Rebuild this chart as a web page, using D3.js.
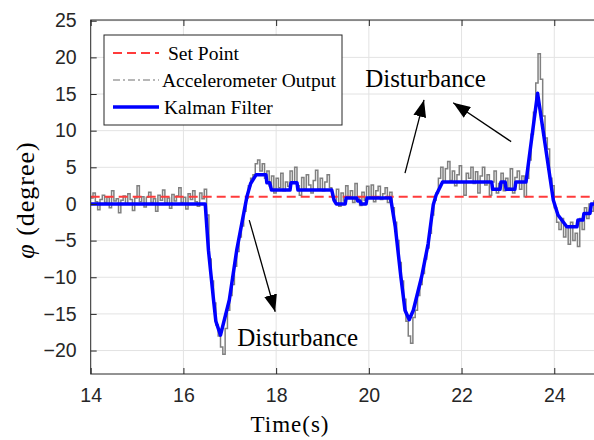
<!DOCTYPE html>
<html>
<head>
<meta charset="utf-8">
<script src="https://cdn.jsdelivr.net/npm/d3@7"></script>
<style>
  body { margin: 0; background: #fff; }
  svg { display: block; }
</style>
</head>
<body>
<div id="chart"></div>
<script>
// ticks
const xTicks = [14, 16, 18, 20, 22, 24];
const yTicks = [-20, -15, -10, -5, 0, 5, 10, 15, 20, 25];

// set point (degree)
const setPoint = 1;

// Kalman filter output
const kalmanT = [14.00, 16.47, 16.54, 16.65, 16.70, 16.80, 16.99, 17.15, 17.37, 17.45,
  17.57, 17.78, 17.80, 17.86, 17.90, 18.30, 18.32, 18.45, 18.47, 19.20,
  19.25, 19.30, 19.49, 19.51, 19.74, 19.76, 19.81, 19.83, 19.94, 19.96,
  20.47, 20.57, 20.69, 20.78, 20.87, 20.96, 21.14, 21.28, 21.39, 21.45,
  21.59, 22.65, 22.67, 22.83, 22.85, 22.94, 22.96, 23.15, 23.17, 23.39,
  23.64, 23.98, 24.08, 24.27, 24.49, 24.51, 24.62, 24.64, 24.77, 24.80, 24.90];
const kalmanV = [0, 0, -6.3, -13.1, -16.0, -17.9, -13.1, -6.3, 1.0, 2.8,
  4.0, 4.0, 2.9, 2.9, 1.9, 1.9, 2.9, 2.9, 1.9, 1.9,
  0.5, 0, 0, 0.8, 0.8, 0.4, 0.4, 0, 0, 0.8,
  0.8, -3.1, -9.9, -14.5, -15.8, -14.5, -9.9, -5.4, -0.1, 1.2,
  3.0, 3.0, 2.0, 2.0, 3.0, 3.0, 2.0, 2.0, 3.0, 3.0,
  15.1, 0.5, -1.5, -3.1, -3.1, -2.2, -2.2, -1.3, -1.3, 0, 0];

// accelerometer output, sampled every 0.05 s from 14 s
const accelStart = 14;
const accelStep = 0.05;
const accelV = [
  0.8, 1.5, 0.3, -0.8, 0.6, 1.2, 0.2, 0.9, -0.5, 1.8,
  0.4, 0.7, -1.2, 0.5, 1.1, 0.0, 1.4, 0.6, -0.9, 0.8,
  2.5, 0.3, 1.0, -0.4, 0.9, 1.6, 0.2, 0.7, -1.0, 1.2,
  0.5, 1.9, 0.1, 0.8, -0.6, 1.3, 0.4, 1.1, 2.2, 0.2,
  0.9, -0.7, 1.4, 0.6, 1.8, 0.3, -0.3, 1.5, 0.7, 2.0,
  -1.5, -7.5, -10.5, -13.5, -16.5, -18.0, -19.5, -20.5, -17.0, -14.5,
  -12.5, -11.0, -8.5, -6.5, -4.5, -3.0, -1.0, 0.8, 2.5, 3.5,
  4.0, 5.5, 6.0, 4.5, 5.5, 3.5, 4.5, 2.5, 3.8,
  1.5, 3.5, 2.2, 4.2, 1.8, 3.0, 2.4, 4.5, 3.0, 5.0,
  2.5, 1.2, 3.6, 2.0, 4.0, 2.6, 1.5, 3.2, 4.6, 2.0,
  3.5, 1.8, 3.0, 4.0, 2.2, 1.0,
  0.5, 2.0, -0.3, 1.5, 0.4, 2.5, 0.8, 1.8, 0.2, 2.8,
  1.0, -0.2, 1.6, 0.5, 2.4, 1.0, 2.6, 0.3, 1.8, 2.4,
  0.6, 1.4, 2.2, 0.2, 1.6,
  -0.5, -2.5, -5.0, -8.0, -10.5, -13.0, -16.0, -18.0, -19.0, -15.5,
  -14.5, -12.5, -11.0, -9.5, -7.5, -6.0, -4.0, -1.5, 0.5, 1.5,
  3.5, 5.0, 3.0,
  4.8, 5.8, 3.2, 4.5, 2.5, 4.0, 5.2, 3.0, 1.2, 4.2,
  3.5, 5.0, 2.8, 4.4, 1.5, 3.8, 5.0, 2.6, 4.0, 1.2,
  3.0, 4.5, 1.5, 2.8, 4.2, 1.8, 3.5, 2.2, 4.8, 1.5,
  3.6, 4.5, 2.0, 3.8, 1.0,
  3.5, 6.0, 9.5, 12.5, 16.5, 20.5, 17.0, 12.0, 9.0, 7.5,
  3.5, 2.5, -0.5, -2.5, -3.5, -2.0, -4.5, -3.0, -5.5, -2.5,
  -5.0, -4.0, -5.8, -2.0, -3.5, -0.5, -2.0, 0.0, -1.0, 0.5];

const legendLabels = ['Set Point', 'Accelerometer Output', 'Kalman Filter'];

// annotations in data units
const noteText = ['Disturbance', 'Disturbance'];
const notePos = [[19.92, 16.0], [17.16, -19.4]];
const arrowTail = [[17.42, -2.2], [20.78, 4.2], [23.07, 8.5]];
const arrowTip = [[17.98, -14.7], [21.19, 14.2], [21.82, 13.8]];

const width = 594, height = 440;
const mLeft = 90.7, mTop = 20, mBottom = 374, mRight = 596;
const axisColor = '#262626';
const serif = '"Liberation Serif", serif';

const svg = d3.select('#chart').append('svg')
    .attr('width', width)
    .attr('height', height);

const x = d3.scaleLinear().domain([14, 24.9]).range([mLeft, mRight]);
const y = d3.scaleLinear().domain([-23.2, 25.1]).range([mBottom, mTop]);

const defs = svg.append('defs');
defs.append('clipPath').attr('id', 'plot-clip')
    .append('rect')
    .attr('x', mLeft).attr('y', mTop)
    .attr('width', mRight - mLeft).attr('height', mBottom - mTop);

// grid
const grid = svg.append('g').attr('stroke', '#e3e3e3').attr('stroke-width', 1);
grid.selectAll('.gx').data(xTicks.slice(1)).enter().append('line')
    .attr('x1', d => x(d)).attr('x2', d => x(d))
    .attr('y1', mTop).attr('y2', mBottom);
grid.selectAll('.gy').data(yTicks).enter().append('line')
    .attr('x1', mLeft).attr('x2', mRight)
    .attr('y1', d => y(d)).attr('y2', d => y(d));

const plot = svg.append('g').attr('clip-path', 'url(#plot-clip)');

// accelerometer
const accelLine = d3.line()
    .x((d, i) => x(accelStart + i * accelStep))
    .y(d => y(d))
    .curve(d3.curveStepAfter);
plot.append('path')
    .datum(accelV)
    .attr('d', accelLine)
    .attr('fill', 'none')
    .attr('stroke', '#808080')
    .attr('stroke-width', 1.5);

// set point
plot.append('line')
    .attr('x1', mLeft).attr('x2', mRight)
    .attr('y1', y(setPoint)).attr('y2', y(setPoint))
    .attr('stroke', '#ff3b3b')
    .attr('stroke-width', 2)
    .attr('stroke-dasharray', '9,5');

// kalman
const kalmanLine = d3.line()
    .x((d, i) => x(kalmanT[i]))
    .y(d => y(d));
plot.append('path')
    .datum(kalmanV)
    .attr('d', kalmanLine)
    .attr('fill', 'none')
    .attr('stroke', '#0000ff')
    .attr('stroke-width', 3.5)
    .attr('stroke-linejoin', 'round');

// axes box
svg.append('rect')
    .attr('x', mLeft).attr('y', mTop)
    .attr('width', mRight - mLeft).attr('height', mBottom - mTop)
    .attr('fill', 'none')
    .attr('stroke', axisColor)
    .attr('stroke-width', 1);

const xAxis = d3.axisBottom(x).tickValues(xTicks).tickSizeInner(-6).tickSizeOuter(0).tickPadding(14);
const gx = svg.append('g').attr('transform', `translate(0,${mBottom})`).call(xAxis);
const yAxis = d3.axisLeft(y).tickValues(yTicks).tickSizeInner(-6).tickSizeOuter(0).tickPadding(14);
const gy = svg.append('g').attr('transform', `translate(${mLeft},0)`).call(yAxis);
// top ticks
const gt = svg.append('g').attr('transform', `translate(0,${mTop})`)
    .call(d3.axisTop(x).tickValues(xTicks).tickSizeInner(-6).tickSizeOuter(0).tickFormat(''));
gt.select('.domain').remove();

[gx, gy].forEach(g => {
    g.select('.domain').remove();
    g.selectAll('text')
        .attr('fill', axisColor)
        .style('font-family', '"Liberation Sans", Arial, sans-serif')
        .style('font-size', '19.5px');
});
svg.selectAll('.tick line').attr('stroke', axisColor);

// axis titles
svg.append('text')
    .attr('x', 290).attr('y', 432)
    .attr('text-anchor', 'middle')
    .style('font-family', serif)
    .style('font-size', '23px')
    .style('letter-spacing', '1px')
    .text('Time(s)');
const yTitle = svg.append('text')
    .attr('transform', 'translate(34,200) rotate(-90)')
    .attr('text-anchor', 'middle')
    .style('font-family', serif)
    .style('font-size', '26px')
    .style('letter-spacing', '1px');
yTitle.append('tspan').style('font-style', 'italic').text('φ');
yTitle.append('tspan').text(' (degree)');

// arrows
defs.append('marker')
    .attr('id', 'head')
    .attr('viewBox', '0 0 17 13')
    .attr('refX', 17).attr('refY', 6.5)
    .attr('markerWidth', 17).attr('markerHeight', 13)
    .attr('markerUnits', 'userSpaceOnUse')
    .attr('orient', 'auto')
    .append('path').attr('d', 'M0,0L17,6.5L0,13Z').attr('fill', '#000');
svg.selectAll('.arrow').data(arrowTail).enter().append('line')
    .attr('class', 'arrow')
    .attr('x1', d => x(d[0])).attr('y1', d => y(d[1]))
    .attr('x2', (d, i) => x(arrowTip[i][0])).attr('y2', (d, i) => y(arrowTip[i][1]))
    .attr('stroke', '#000')
    .attr('stroke-width', 1.3)
    .attr('marker-end', 'url(#head)');

svg.selectAll('.note').data(noteText).enter().append('text')
    .attr('class', 'note')
    .attr('x', (d, i) => x(notePos[i][0]))
    .attr('y', (d, i) => y(notePos[i][1]))
    .style('font-family', serif)
    .style('font-size', '25px')
    .text(d => d);

// legend
const legend = svg.append('g');
legend.append('rect')
    .attr('x', 104).attr('y', 35)
    .attr('width', 238).attr('height', 90)
    .attr('fill', '#fff')
    .attr('stroke', axisColor)
    .attr('stroke-width', 1);
const legendStyle = [
    { stroke: '#ff3b3b', width: 2, dash: '9,5', y: 53, tx: 168 },
    { stroke: '#a0a0a0', width: 1.6, dash: '7,3,2,3', y: 80, tx: 162 },
    { stroke: '#0000ff', width: 3.5, dash: null, y: 107, tx: 164 }
];
legendStyle.forEach((s, i) => {
    legend.append('line')
        .attr('x1', 113).attr('x2', 159)
        .attr('y1', s.y).attr('y2', s.y)
        .attr('stroke', s.stroke)
        .attr('stroke-width', s.width)
        .attr('stroke-dasharray', s.dash);
    legend.append('text')
        .attr('x', s.tx).attr('y', s.y + 6.5)
        .style('font-family', serif)
        .style('font-size', '19.5px')
        .text(legendLabels[i]);
});
</script>
</body>
</html>
